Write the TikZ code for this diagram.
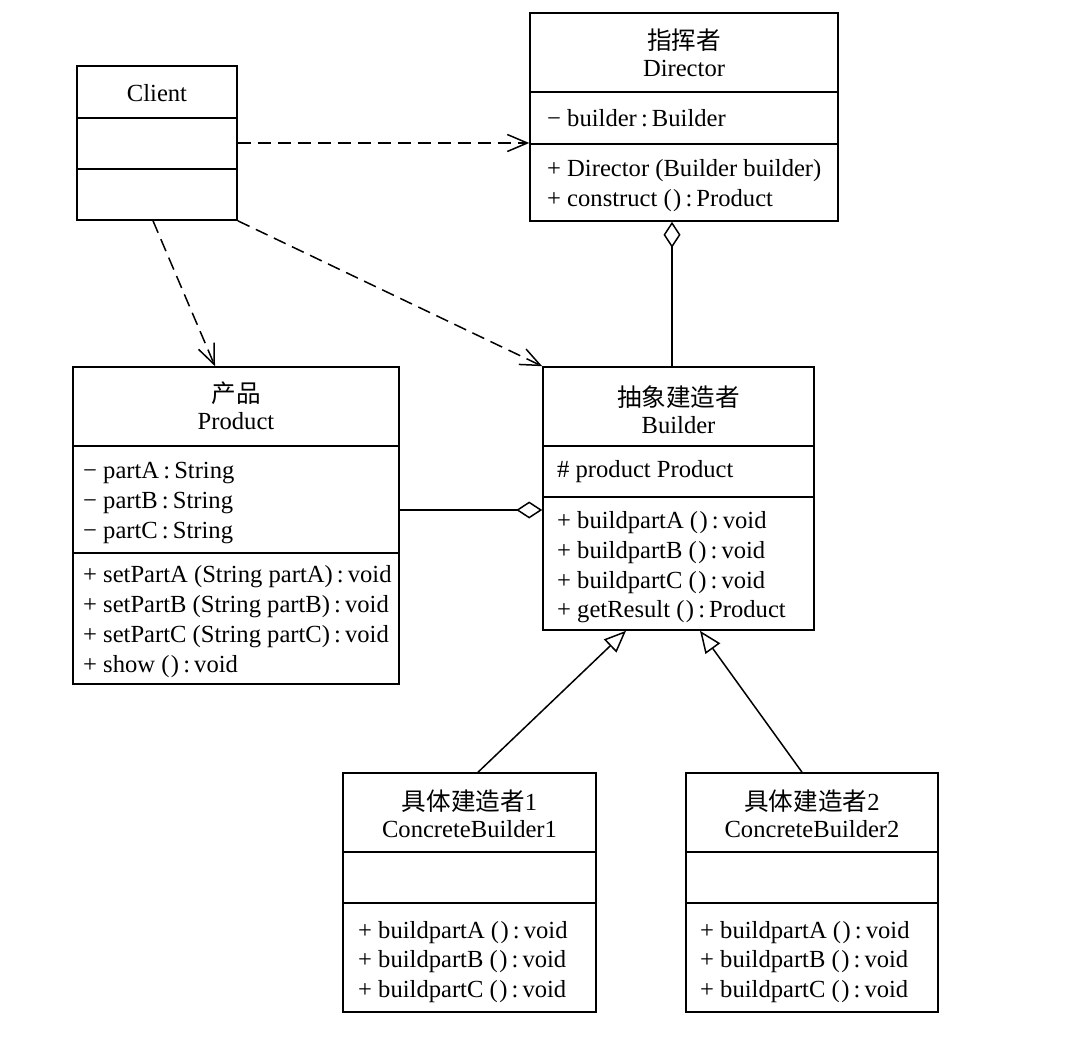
\documentclass[tikz,border=0pt]{standalone}
\usepackage{fontspec}
\setmainfont{Liberation Serif}
\newfontfamily\cjk{Noto Sans CJK SC}
\usetikzlibrary{arrows.meta,calc}
\newcommand{\emptyparen}{(\kern1.5pt)}
\begin{document}
\begin{tikzpicture}[x=1pt,y=-1pt,
  classbox/.style={draw, line width=1.6pt, inner sep=0pt, fill=white},
  divline/.style={line width=1.6pt},
  txt/.style={anchor=base west, inner sep=0pt, font=\fontsize{24.6}{30}\selectfont},
  ttl/.style={anchor=base, inner sep=0pt, font=\fontsize{24.6}{30}\selectfont},
  dep/.style={line width=1.5pt, dash pattern=on 13pt off 7pt, -{Straight Barb[length=20pt,width=17pt,line width=1.5pt]}},
  aggd/.style={line width=1.5pt, -{Diamond[open,fill=white,length=26pt,width=17pt,line width=1.5pt]}},
  gen/.style={line width=1.5pt, -{Triangle[open,fill=white,length=22pt,width=18pt,line width=1.5pt]}}
]
\fill[white] (0,0) rectangle (1078,1051);
\useasboundingbox (0,0) rectangle (1078,1051);

% class boxes
\node[classbox, minimum width=160pt, minimum height=154pt] (client) at (157,143) {};
\node[classbox, minimum width=308pt, minimum height=208pt] (director) at (684,117) {};
\node[classbox, minimum width=326pt, minimum height=317pt] (product) at (236,525.5) {};
\node[classbox, minimum width=271pt, minimum height=263pt] (builder) at (678.5,498.5) {};
\node[classbox, minimum width=253pt, minimum height=239pt] (cbone) at (469.5,892.5) {};
\node[classbox, minimum width=252pt, minimum height=239pt] (cbtwo) at (812,892.5) {};

% dividers
\draw[divline] (client.west |- 0,118) -- (client.east |- 0,118);
\draw[divline] (client.west |- 0,169) -- (client.east |- 0,169);
\draw[divline] (director.west |- 0,92) -- (director.east |- 0,92);
\draw[divline] (director.west |- 0,144) -- (director.east |- 0,144);
\draw[divline] (product.west |- 0,446) -- (product.east |- 0,446);
\draw[divline] (product.west |- 0,553) -- (product.east |- 0,553);
\draw[divline] (builder.west |- 0,446) -- (builder.east |- 0,446);
\draw[divline] (builder.west |- 0,497) -- (builder.east |- 0,497);
\draw[divline] (cbone.west |- 0,852) -- (cbone.east |- 0,852);
\draw[divline] (cbone.west |- 0,903) -- (cbone.east |- 0,903);
\draw[divline] (cbtwo.west |- 0,852) -- (cbtwo.east |- 0,852);
\draw[divline] (cbtwo.west |- 0,903) -- (cbtwo.east |- 0,903);

% Client
\node[ttl] (clientname) at (157,102) {Client};

% Director
\node[ttl] (dirzh) at (684,50) {\cjk 指挥者};
\node[ttl] (diren) at (684,77) {Director};
\node[txt] (dira) at (547,127) {− builder\,:\,Builder};
\node[txt] (dirb) at (547,177) {+ Director (Builder builder)};
\node[txt] (dirc) at (547,207) {+ construct \emptyparen\,:\,Product};

% Product
\node[ttl] (prodzh) at (236,402) {\cjk 产品};
\node[ttl] (proden) at (236,429) {Product};
\node[txt] (pa) at (83,478) {− partA\,:\,String};
\node[txt] (pb) at (83,508) {− partB\,:\,String};
\node[txt] (pc) at (83,538) {− partC\,:\,String};
\node[txt] (pd) at (83,582) {+ setPartA (String partA)\,:\,void};
\node[txt] (pe) at (83,612) {+ setPartB (String partB)\,:\,void};
\node[txt] (pf) at (83,642) {+ setPartC (String partC)\,:\,void};
\node[txt] (pg) at (83,672) {+ show \emptyparen\,:\,void};

% Builder
\node[ttl] (bldzh) at (678.5,406) {\cjk 抽象建造者};
\node[ttl] (blden) at (678.5,433) {Builder};
\node[txt] (ba) at (557,477) {\# product Product};
\node[txt] (bb) at (557,528) {+ buildpartA \emptyparen\,:\,void};
\node[txt] (bc) at (557,558) {+ buildpartB \emptyparen\,:\,void};
\node[txt] (bd) at (557,588) {+ buildpartC \emptyparen\,:\,void};
\node[txt] (be) at (557,617) {+ getResult \emptyparen\,:\,Product};

% ConcreteBuilder1
\node[ttl] (c1zh) at (469.5,810) {{\cjk 具体建造者}1};
\node[ttl] (c1en) at (469.5,837) {ConcreteBuilder1};
\node[txt] (c1a) at (358,938) {+ buildpartA \emptyparen\,:\,void};
\node[txt] (c1b) at (358,967) {+ buildpartB \emptyparen\,:\,void};
\node[txt] (c1c) at (358,997) {+ buildpartC \emptyparen\,:\,void};

% ConcreteBuilder2
\node[ttl] (c2zh) at (812,810) {{\cjk 具体建造者}2};
\node[ttl] (c2en) at (812,837) {ConcreteBuilder2};
\node[txt] (c2a) at (700,938) {+ buildpartA \emptyparen\,:\,void};
\node[txt] (c2b) at (700,967) {+ buildpartB \emptyparen\,:\,void};
\node[txt] (c2c) at (700,997) {+ buildpartC \emptyparen\,:\,void};

% connectors
\draw[dep] (client.east |- 0,143) -- (director.west |- 0,143);
\draw[dep] (client.south -| 153,0) -- (product.north -| 215,0);
\draw[dep] (client.south east) -- (builder.north west);
\draw[aggd] (builder.north -| 672,0) -- (director.south -| 672,0);
\draw[aggd] (product.east |- 0,510) -- (builder.west |- 0,510);
\draw[gen] (cbone.north -| 478,0) -- (builder.south -| 626,0);
\draw[gen] (cbtwo.north -| 802,0) -- (builder.south -| 700,0);
\end{tikzpicture}
\end{document}
